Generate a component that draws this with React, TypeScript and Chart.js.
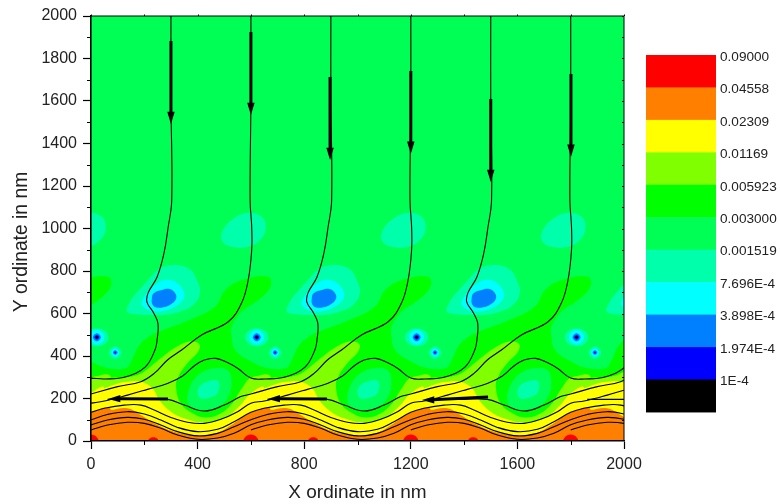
import React, { useEffect, useRef } from "react";
import { Chart, registerables } from "chart.js";

Chart.register(...registerables);

type P = [number, number];

const COLORS = {
  red: "#FF0000", orange: "#FF8000", yellow: "#FFFF00", lime: "#80FF00", green: "#00FF00",
  spring: "#00FF55", aqua: "#00FFAA", cyan: "#00FFFF", azure: "#0080FF", blue: "#0000FF", black: "#000000",
};

const legendColors = [COLORS.red, COLORS.orange, COLORS.yellow, COLORS.lime, COLORS.green, COLORS.spring, COLORS.aqua, COLORS.cyan, COLORS.azure, COLORS.blue, COLORS.black];
const legendLabels = ["0.09000", "0.04558", "0.02309", "0.01169", "0.005923", "0.003000", "0.001519", "7.696E-4", "3.898E-4", "1.974E-4", "1E-4"];

const xMajorTicks = [0, 400, 800, 1200, 1600, 2000];
const xMinorTicks = [200, 600, 1000, 1400, 1800];
const yMinorTicks = [100, 300, 500, 700, 900, 1100, 1300, 1500, 1700, 1900];

const periods = [-600, 0, 600, 1200, 1800, 2400];
const spotPeriods = [0, 600, 1200, 1800];

const plotField: P[] = [[-200, -200], [2200, -200], [2200, 2200], [-200, 2200]];

const upperAqua: P[] = [[-110, 977], [-73, 1040], [-10, 1074], [40, 1056], [56, 1008], [40, 953], [-10, 914], [-73, 914], [-106, 938]];

const greenZone: P[] = [[141, 350], [166, 413], [178, 444], [228, 499], [353, 561], [465, 632], [503, 710], [565, 757], [665, 773], [674, 726], [628, 663], [565, 608], [528, 538], [528, 491], [541, 428], [591, 381], [666, 342], [741, 350], [766, 413], [778, 444], [800, 470], [800, -300], [120, -300]];

const eyeAqua: P[] = [[134, 610], [140, 640], [159, 679], [209, 750], [259, 812], [315, 828], [371, 808], [400, 750], [409, 695], [384, 640], [334, 608], [278, 593], [215, 593], [159, 598]];
const eyeCyan: P[] = [[190, 648], [209, 695], [240, 734], [278, 758], [321, 745], [350, 695], [340, 656], [296, 620], [240, 609], [203, 625]];
const eyeAzure: P[] = [[228, 666], [235, 695], [263, 710], [296, 715], [318, 691], [318, 666], [300, 644], [271, 629], [243, 629], [230, 644]];

const limeZone: P[] = [[-38, 240], [0, 298], [75, 298], [175, 311], [250, 378], [312, 436], [369, 468], [406, 457], [402, 420], [362, 366], [331, 311], [319, 264], [337, 177], [387, 127], [425, 111], [475, 122], [525, 169], [562, 240], [587, 279], [600, 298], [675, 298], [675, -300], [-38, -300]];
const yellowZone: P[] = [[-38, 169], [0, 224], [50, 248], [100, 271], [137, 279], [187, 279], [231, 248], [256, 193], [300, 138], [350, 107], [425, 86], [500, 107], [562, 169], [600, 224], [650, 248], [650, -300], [-38, -300]];
const orangeZone: P[] = [[-63, 83], [0, 133], [75, 146], [137, 154], [187, 122], [250, 75], [325, 39], [400, 28], [475, 39], [537, 83], [600, 133], [675, 146], [675, -300], [-63, -300]];

const domeSpring: P[] = [[362, 209], [377, 271], [412, 319], [462, 342], [512, 334], [527, 279], [515, 209], [481, 162], [437, 146], [387, 154], [365, 177]];
const domeAqua: P[] = [[400, 232], [412, 263], [444, 282], [475, 284], [482, 256], [472, 221], [437, 201], [410, 201]];

const spotAquaA: P[] = [[-22, 488], [-9, 518], [22, 530], [53, 518], [66, 488], [53, 458], [22, 446], [-9, 458]];
const spotCyanA: P[] = [[-6, 488], [2, 513], [22, 523], [42, 513], [50, 488], [42, 463], [22, 453], [2, 463]];
const spotAzureA: P[] = [[7, 488], [22, 507], [37, 488], [22, 469]];
const spotBlueA: P[] = [[13, 488], [22, 499], [31, 488], [22, 477]];
const spotBlackA: P[] = [[17, 488], [22, 494], [27, 488], [22, 482]];
const spotAquaB: P[] = [[67, 416], [91, 446], [115, 416], [91, 386]];
const spotCyanB: P[] = [[76, 416], [91, 435], [106, 416], [91, 397]];
const spotAzureB: P[] = [[82, 416], [91, 427], [100, 416], [91, 405]];
const spotBlueB: P[] = [[87, 416], [91, 421], [95, 416], [91, 411]];

const redLarge: P[] = [[-30, -20], [-22, 18], [0, 31], [22, 18], [30, -20], [0, -40]];
const redSmall: P[] = [[212, -10], [220, 12], [234, 18], [248, 12], [256, -10], [234, -20]];

const eye: P[] = [[300, 2000], [300, 1600], [303, 1134], [289, 1002], [274, 885], [248, 772], [214, 696], [210, 654], [233, 607], [251, 555], [248, 475], [240, 428], [203, 348], [128, 301], [53, 292], [0, 296]];
const crest: P[] = [[600, 296], [550, 342], [512, 369], [469, 389], [425, 381], [387, 353], [344, 306], [287, 271], [212, 243], [137, 216], [50, 188], [0, 178]];
const tongue: P[] = [[600, 2000], [600, 1600], [597, 1134], [603, 1008], [603, 899], [590, 758], [565, 649], [515, 561], [415, 499], [340, 428], [287, 381], [237, 318], [187, 279], [100, 256], [0, 221]];
const dip: P[] = [[600, 221], [562, 209], [500, 169], [425, 141], [350, 169], [287, 196], [200, 196], [62, 196]];
const waveA: P[] = [[600, 178], [550, 138], [487, 102], [425, 83], [362, 88], [300, 111], [237, 146], [187, 169], [125, 169], [50, 154], [0, 135]];
const waveB: P[] = [[600, 135], [537, 91], [475, 55], [400, 44], [325, 64], [262, 99], [200, 127], [137, 138], [62, 125], [0, 100]];
const waveC: P[] = [[600, 100], [537, 67], [475, 36], [400, 24], [325, 44], [262, 75], [200, 102], [137, 111], [62, 99], [0, 76]];
const waveD: P[] = [[600, 76], [537, 36], [475, 14], [400, 8], [325, 28], [262, 60], [200, 83], [137, 88], [62, 75], [0, 52]];

const streamlines: [P[], number][][] = [
  [[eye, 0]],
  [[eye, 600], [crest, 0]],
  [[eye, 1200], [crest, 600], [waveA, 0]],
  [[eye, 1800], [crest, 1200], [waveA, 600], [waveB, 0]],
  [[crest, 1800], [waveA, 1200], [waveB, 600], [waveC, 0]],
  [[waveA, 1800], [waveB, 1200], [waveC, 600], [waveD, 0]],
  [[waveB, 1800], [waveC, 1200], [waveD, 600]],
  [[waveC, 1800], [waveD, 1200]],
  [[waveD, 1800]],
  [[tongue, 0]],
  [[tongue, 600], [dip, 0]],
  [[tongue, 1200], [dip, 600]],
  [[tongue, 1800], [dip, 1200]],
  [[dip, 1800]],
];

// x, tail y, tip y
const downArrows: [number, number, number][] = [[300, 1882, 1492], [600, 1925, 1534], [897, 1713, 1322], [1200, 1741, 1351], [1500, 1609, 1219], [1801, 1727, 1337]];
// tail x, tail y, tip x, tip y
const leftArrows: [number, number, number, number][] = [[289, 198, 64, 198], [885, 198, 663, 198], [1490, 207, 1242, 193]];

const toXY = (pts: P[], dx = 0) => pts.map(([x, y]) => ({ x: x + dx, y }));
const wrap = (pts: P[]): P[] => [pts[pts.length - 1], ...pts, pts[0], pts[1]];

function area(points: P[], color: string, tension = 0.4) {
  return {
    data: toXY(points), showLine: true, fill: "shape", borderWidth: 0, pointRadius: 0,
    backgroundColor: color, borderColor: color, tension, capBezierPoints: false,
  };
}
function repeated(points: P[], color: string, offsets: number[], closed = true) {
  const pts = closed ? wrap(points) : points;
  return offsets.map((dx) => area(pts.map(([x, y]) => [x + dx, y] as P), color));
}
function curve(data: { x: number; y: number }[], width: number, tension: number) {
  return {
    data, showLine: true, fill: false, borderWidth: width, borderColor: "#000", backgroundColor: "#000",
    pointRadius: 0, tension, capBezierPoints: false, borderCapStyle: "butt",
  };
}

function buildDatasets() {
  const out: any[] = [];
  out.push(area(plotField, COLORS.spring, 0));
  out.push(...repeated(upperAqua, COLORS.aqua, periods));
  out.push(...repeated(greenZone, COLORS.green, periods, false));
  out.push(...repeated(eyeAqua, COLORS.aqua, periods));
  out.push(...repeated(eyeCyan, COLORS.cyan, periods));
  out.push(...repeated(eyeAzure, COLORS.azure, periods));
  out.push(...repeated(limeZone, COLORS.lime, periods, false));
  out.push(...repeated(yellowZone, COLORS.yellow, periods, false));
  out.push(...repeated(orangeZone, COLORS.orange, periods, false));
  out.push(...repeated(domeSpring, COLORS.spring, periods));
  out.push(...repeated(domeAqua, COLORS.aqua, periods));
  out.push(...repeated(spotAquaA, COLORS.aqua, spotPeriods));
  out.push(...repeated(spotCyanA, COLORS.cyan, spotPeriods));
  out.push(...repeated(spotAzureA, COLORS.azure, spotPeriods));
  out.push(...repeated(spotBlueA, COLORS.blue, spotPeriods));
  out.push(...repeated(spotBlackA, COLORS.black, spotPeriods));
  out.push(...repeated(spotAquaB, COLORS.aqua, spotPeriods));
  out.push(...repeated(spotCyanB, COLORS.cyan, spotPeriods));
  out.push(...repeated(spotAzureB, COLORS.azure, spotPeriods));
  out.push(...repeated(spotBlueB, COLORS.blue, spotPeriods));
  out.push(...repeated(redLarge, COLORS.red, [0, 600, 1200, 1800]));
  out.push(...repeated(redSmall, COLORS.red, [0, 600, 1200, 1800]));
  for (const parts of streamlines) {
    const data: { x: number; y: number }[] = [];
    parts.forEach(([seg, dx], i) => data.push(...toXY(i === 0 ? seg : seg.slice(1), dx)));
    out.push(curve(data, 1.1, 0.4));
  }
  for (const [x, tail, tip] of downArrows) {
    out.push(curve([{ x, y: tail }, { x, y: tip + 50 }], 3, 0));
    out.push(area([[x, tip], [x - 14, tip + 58], [x + 14, tip + 58]], "#000", 0));
  }
  for (const [tx, ty, hx, hy] of leftArrows) {
    out.push(curve([{ x: tx, y: ty }, { x: hx + 40, y: hy + 1 }], 3, 0));
    out.push(area([[hx, hy], [hx + 46, hy + 18], [hx + 46, hy - 16]], "#000", 0));
  }
  return out.reverse();
}

const FONT = "'Liberation Sans', Arial, sans-serif";

const decorations = {
  id: "decorations",
  afterDraw(chart: any) {
    const { ctx, scales } = chart;
    const { left, right, top, bottom } = chart.chartArea;
    ctx.save();
    ctx.strokeStyle = "#000";
    ctx.lineWidth = 1;
    ctx.beginPath();
    ctx.moveTo(left, top);
    ctx.lineTo(right, top);
    ctx.moveTo(right, top);
    ctx.lineTo(right, bottom);
    for (const v of xMinorTicks) {
      const px = Math.round(scales.x.getPixelForValue(v)) + 0.5;
      ctx.moveTo(px, bottom);
      ctx.lineTo(px, bottom + 4);
      ctx.moveTo(px, top);
      ctx.lineTo(px, top - 1.5);
    }
    for (const v of xMajorTicks) {
      const px = Math.round(scales.x.getPixelForValue(v)) + 0.5;
      ctx.moveTo(px, top);
      ctx.lineTo(px, top - 1.5);
    }
    for (const v of yMinorTicks) {
      const py = Math.round(scales.y.getPixelForValue(v)) + 0.5;
      ctx.moveTo(left, py);
      ctx.lineTo(left - 4, py);
      ctx.moveTo(right, py);
      ctx.lineTo(right - 2, py);
      const py2 = Math.round(scales.y.getPixelForValue(v + 100)) + 0.5;
      ctx.moveTo(right, py2);
      ctx.lineTo(right - 2, py2);
    }
    ctx.stroke();

    const barLeft = 646, barWidth = 70, barTop = 55, rowHeight = 32.45;
    legendColors.forEach((c, i) => {
      ctx.fillStyle = c;
      ctx.fillRect(barLeft, barTop + i * rowHeight, barWidth, rowHeight + 0.5);
    });
    ctx.fillStyle = "#222";
    ctx.font = `13.6px ${FONT}`;
    ctx.textAlign = "left";
    ctx.textBaseline = "middle";
    legendLabels.forEach((t, i) => ctx.fillText(t, 720, barTop + i * rowHeight + 2));

    ctx.translate(22, 242);
    ctx.rotate(-Math.PI / 2);
    ctx.textAlign = "center";
    ctx.textBaseline = "middle";
    ctx.font = `19.3px ${FONT}`;
    ctx.fillStyle = "#222";
    ctx.fillText("Y ordinate in nm", 0, 0);
    ctx.restore();
  },
};

export default function App() {
  const ref = useRef<HTMLCanvasElement | null>(null);
  useEffect(() => {
    document.body.style.margin = "0";
    const plain = (v: any) => String(v);
    const chart = new Chart(ref.current as HTMLCanvasElement, {
      type: "scatter",
      data: { datasets: buildDatasets() },
      plugins: [decorations],
      options: {
        animation: false,
        responsive: false,
        events: [],
        layout: { padding: { top: 16, right: 156, left: 0, bottom: 0 } },
        plugins: { legend: { display: false }, tooltip: { enabled: false } },
        scales: {
          x: {
            type: "linear", min: 0, max: 2000,
            afterFit: (s: any) => { s.height = 63; },
            ticks: { stepSize: 400, callback: plain, color: "#222", font: { family: FONT, size: 16 }, padding: 6, maxRotation: 0, autoSkip: false, z: 2 },
            grid: { drawOnChartArea: false, drawTicks: true, tickLength: 8, color: "#000", tickColor: "#000", tickWidth: 1.2, z: 1 },
            border: { color: "#000", width: 1.6, z: 2 },
            title: { display: true, text: "X ordinate in nm", color: "#222", font: { family: FONT, size: 19 }, padding: { top: 0, bottom: 0 } },
          },
          y: {
            type: "linear", min: 0, max: 2000,
            afterFit: (s: any) => { s.width = 91; },
            ticks: { stepSize: 200, callback: plain, color: "#222", font: { family: FONT, size: 16 }, padding: 6, autoSkip: false, z: 2 },
            grid: { drawOnChartArea: false, drawTicks: true, tickLength: 8, color: "#000", tickColor: "#000", tickWidth: 1.2, z: 1 },
            border: { color: "#000", width: 1.6, z: 2 },
          },
        },
      },
    } as any);
    return () => chart.destroy();
  }, []);
  return <canvas ref={ref} width={780} height={504} style={{ display: "block" }} />;
}
